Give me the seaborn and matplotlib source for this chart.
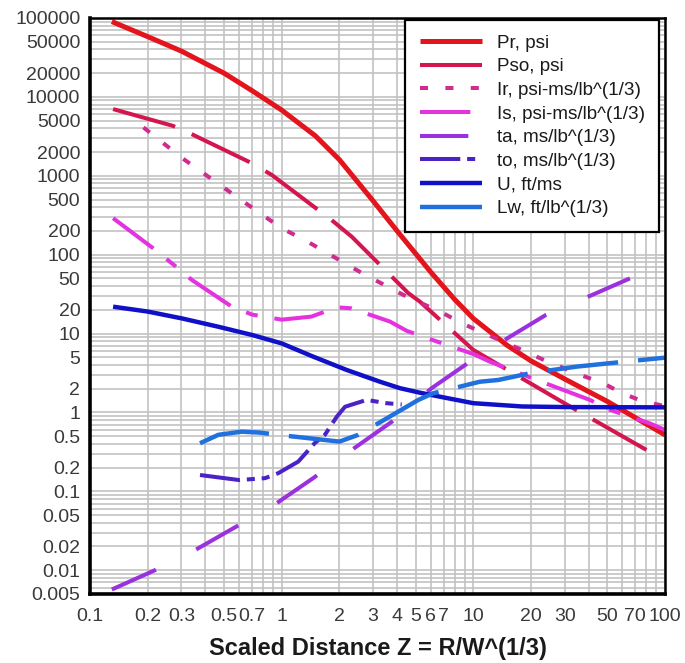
import numpy as np
import matplotlib
matplotlib.use("Agg")
import matplotlib.pyplot as plt
import seaborn as sns
from matplotlib.ticker import FixedLocator, FixedFormatter, LogLocator, NullFormatter

# ---------------- data ----------------
pr_z = [0.13, 0.2, 0.3, 0.5, 0.7, 1.0, 1.5, 2.0, 3.0, 4.0, 6.0, 8.0, 10, 15, 20, 30, 50, 100]
pr_v = [90000, 58000, 38000, 20000, 12000, 6800, 3200, 1600, 480, 200, 60, 27, 15.5, 7.1, 4.5, 2.65, 1.38, 0.52]

pso_z = [0.132, 0.27, 0.34, 0.7, 0.89, 1.82, 2.32, 4.58, 5.26, 10, 30, 80]
pso_v = [7000, 4300, 3360, 1440, 1020, 275, 169, 32.5, 25.4, 6.2, 1.3, 0.335]

ir_z = [0.19, 0.3, 0.64, 1.0, 1.32, 2.67, 4.3, 7, 8.7, 17.9, 23, 36, 47.6, 59, 75, 100]
ir_v = [4100, 1700, 460, 216, 153, 57, 31, 18, 13.5, 6.2, 4.7, 3.0, 2.35, 1.78, 1.41, 1.2]

is_z = [0.132, 0.214, 0.3, 0.339, 0.548, 0.7, 1.0, 1.43, 1.94, 2.3, 3.67, 4.5, 5.94, 10, 12.2, 21.4, 40.6, 51.6, 83, 100]
is_v = [290, 120, 62, 48, 22, 17.4, 15, 16.4, 21.5, 20.9, 14.2, 10.8, 8.5, 5.5, 4.4, 2.58, 1.44, 1.08, 0.73, 0.6]

ta_z = [0.13, 0.214, 0.339, 0.559, 0.887, 1.46, 2.32, 3.75, 6.06, 9.6, 15.5, 23.9, 40.6, 65.6]
ta_v = [0.0057, 0.0098, 0.017, 0.034, 0.064, 0.147, 0.335, 0.76, 2.03, 4.4, 9.1, 17.2, 30, 50]

to_z = [0.375, 0.6, 0.82, 0.96, 1.22, 1.49, 1.68, 1.94, 2.14, 2.77, 3.53, 4.23]
to_v = [0.161, 0.139, 0.147, 0.17, 0.238, 0.41, 0.52, 0.885, 1.18, 1.44, 1.31, 1.26]

u_z = [0.132, 0.2, 0.3, 0.467, 0.7, 1.0, 1.46, 2.18, 3.26, 4.14, 5.26, 7, 10, 18, 30, 100]
u_v = [21.9, 19, 15.6, 12.2, 9.6, 7.5, 5.1, 3.46, 2.45, 2.03, 1.78, 1.55, 1.31, 1.19, 1.17, 1.16]

lw_z = [0.375, 0.467, 0.618, 0.77, 0.96, 1.4, 2.0, 2.51, 3.5, 5.16, 6.17, 10.8, 13.5, 20, 34.6, 60, 100]
lw_v = [0.407, 0.52, 0.571, 0.555, 0.52, 0.47, 0.427, 0.52, 0.83, 1.44, 1.75, 2.45, 2.58, 3.16, 3.81, 4.37, 4.95]

labels = ["Pr, psi", "Pso, psi", "Ir, psi-ms/lb^(1/3)", "Is, psi-ms/lb^(1/3)",
          "ta, ms/lb^(1/3)", "to, ms/lb^(1/3)", "U, ft/ms", "Lw, ft/lb^(1/3)"]

x_ticks = [0.1, 0.2, 0.3, 0.5, 0.7, 1, 2, 3, 4, 5, 6, 7, 10, 20, 30, 50, 70, 100]
x_tick_labels = ["0.1", "0.2", "0.3", "0.5", "0.7", "1", "2", "3", "4", "5", "6", "7",
                 "10", "20", "30", "50", "70", "100"]
y_ticks = [0.005, 0.01, 0.02, 0.05, 0.1, 0.2, 0.5, 1, 2, 5, 10, 20, 50, 100, 200, 500,
           1000, 2000, 5000, 10000, 20000, 50000, 100000]
y_tick_labels = ["0.005", "0.01", "0.02", "0.05", "0.1", "0.2", "0.5", "1", "2", "5", "10",
                 "20", "50", "100", "200", "500", "1000", "2000", "5000", "10000", "20000",
                 "50000", "100000"]

# ---------------- styles ----------------
series = [
    (pr_z, pr_v, "#e3141c", 3.6, None),
    (pso_z, pso_v, "#d4164e", 2.9, [16, 4.5]),
    (ir_z, ir_v, "#cf2b91", 2.9, [2, 4.3]),
    (is_z, is_v, "#e532df", 2.9, [12.5, 4.2, 3, 4.2]),
    (ta_z, ta_v, "#9a30de", 2.9, [12, 11.2]),
    (to_z, to_v, "#4a22c6", 2.9, [10, 1.7, 2, 1.7, 2, 1.8]),
    (u_z, u_v, "#1010c8", 3.2, None),
    (lw_z, lw_v, "#2070dd", 3.2, [16, 4.5]),
]

sns.set_theme(style="white")
plt.rcParams["font.family"] = ["Liberation Sans", "DejaVu Sans"]

fig = plt.figure(figsize=(6.85, 6.63), dpi=100)
ax = fig.add_axes([0.1314, 0.1041, 0.8394, 0.8688])
ax.set_xscale("log")
ax.set_yscale("log")

for (z, v, col, lw, dash), lab in zip(series, labels):
    sns.lineplot(x=z, y=v, ax=ax, color=col, linewidth=lw, label=lab,
                 estimator=None, sort=False, legend=False)
    line = ax.lines[-1]
    line.set_solid_capstyle("butt")
    line.set_solid_joinstyle("round")
    if dash is not None:
        line.set_dashes(dash)
        line.set_dash_capstyle("butt")

ax.set_xlim(0.1, 100)
ax.set_ylim(0.005, 100000)

ax.xaxis.set_major_locator(FixedLocator(x_ticks))
ax.xaxis.set_major_formatter(FixedFormatter(x_tick_labels))
ax.yaxis.set_major_locator(FixedLocator(y_ticks))
ax.yaxis.set_major_formatter(FixedFormatter(y_tick_labels))
for axis in (ax.xaxis, ax.yaxis):
    axis.set_minor_locator(LogLocator(base=10, subs=np.arange(1, 10), numticks=200))
    axis.set_minor_formatter(NullFormatter())

ax.grid(which="both", color="#c2c2c2", linewidth=1.2)
ax.set_axisbelow(True)
ax.tick_params(which="both", length=0)
ax.tick_params(axis="y", labelsize=14, labelcolor="#3a3a3a", pad=7)
ax.tick_params(axis="x", labelsize=14, labelcolor="#3a3a3a", pad=10)

for side in ("left", "bottom"):
    ax.spines[side].set_linewidth(2.6)
    ax.spines[side].set_color("black")
for side in ("top", "right"):
    ax.spines[side].set_linewidth(1.8)
    ax.spines[side].set_color("black")
ax.spines["top"].set_visible(True)
ax.spines["right"].set_visible(True)

ax.set_xlabel("Scaled Distance Z = R/W^(1/3)", fontsize=17, fontweight="bold",
              color="#1a1a1a", labelpad=9)
ax.set_ylabel("")

leg = ax.legend(loc="upper right", bbox_to_anchor=(0.99, 0.997), frameon=True,
                fancybox=False, framealpha=1, edgecolor="black", facecolor="white",
                fontsize=13.6, handlelength=3.3, handletextpad=0.75, labelspacing=0.34,
                borderpad=0.78, borderaxespad=0)
leg.get_frame().set_linewidth(1.6)
for t in leg.get_texts():
    t.set_color("#1a1a1a")

fig.savefig("out.png", dpi=100)
